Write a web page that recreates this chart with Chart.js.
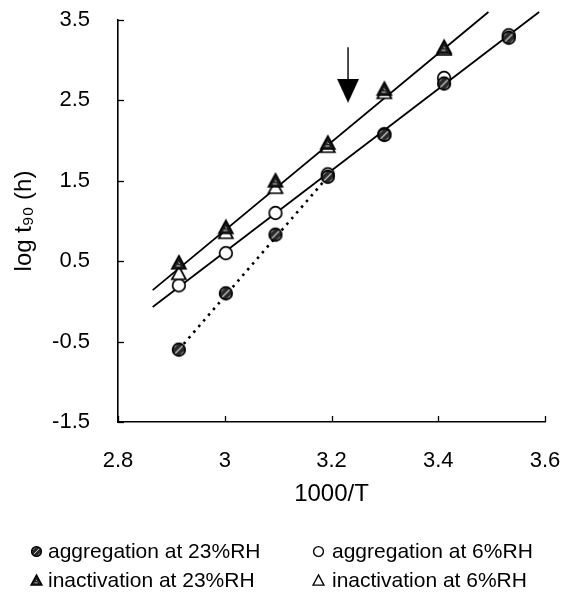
<!DOCTYPE html>
<html><head><meta charset="utf-8">
<script src="https://cdn.jsdelivr.net/npm/chart.js@4.4.0/dist/chart.umd.min.js"></script>
<style>
html,body{margin:0;padding:0;background:#fff;}
#wrap{position:relative;width:564px;height:602px;overflow:hidden;}
#c{position:absolute;left:0;top:0;}
#legend{position:absolute;left:0;top:0;width:564px;height:602px;font-family:"Liberation Sans",Arial,sans-serif;font-size:21px;color:#000;pointer-events:none;}
.item{position:absolute;height:24px;line-height:24px;white-space:nowrap;}
.item canvas{position:absolute;top:50%;}
.item span{position:absolute;top:0;white-space:nowrap;}
</style></head><body>
<div id="wrap"><canvas id="c" width="564" height="602"></canvas><div id="legend"></div></div>
<script>
// ---- data ----
const invT = [2.914, 3.002, 3.095, 3.193, 3.299, 3.411, 3.532];
const aggregation23 = [-0.6, 0.1, 0.83, 1.55, 2.07, 2.71, 3.28];
const aggregation6 = [0.2, 0.6, 1.1, 1.58, 2.08, 2.78, 3.31];
const inactivation23 = [0.48, 0.92, 1.5, 1.97, 2.64, 3.16];
const inactivation6 = [0.35, 0.86, 1.42, 1.93, 2.6, 3.14];
const fitInactX = [2.865, 3.494];
const fitInactY = [0.14, 3.6];
const fitAggX = [2.865, 3.589];
const fitAggY = [-0.07, 3.6];
const dottedX = [2.914, 3.193];
const dottedY = [-0.6, 1.55];
const arrowX = [3.231, 3.231];
const arrowY = [3.16, 2.72];
const arrowHeadY = [2.62];
const xTickLabels = ['2.8', '3', '3.2', '3.4', '3.6'];
const yTickLabels = ['-1.5', '-0.5', '0.5', '1.5', '2.5', '3.5'];
const seriesNames = ['aggregation at 23%RH', 'aggregation at 6%RH', 'inactivation at 23%RH', 'inactivation at 6%RH'];
const xTitle = '1000/T';
const yTitle = 'log t\u2089\u2080 (h)';

// ---- marker images ----
function marker(kind, s) {
  const size = Math.ceil(16 * s) + 2;
  const cv = document.createElement('canvas');
  cv.width = size; cv.height = size;
  const g = cv.getContext('2d');
  const c = size / 2;
  g.lineWidth = 1.7 * Math.max(s, 0.8);
  g.strokeStyle = '#000';
  if (kind === 'hcircle' || kind === 'ocircle') {
    const r = 6.3 * s;
    g.beginPath(); g.arc(c, c, r, 0, Math.PI * 2);
    g.fillStyle = kind === 'hcircle' ? '#2a2a2a' : '#fff';
    g.fill();
    if (kind === 'hcircle') {
      g.save(); g.beginPath(); g.arc(c, c, r - 1, 0, Math.PI * 2); g.clip();
      g.strokeStyle = '#e8e8e8'; g.lineWidth = 1.1 * s;
      for (let k = -2; k <= 2; k++) {
        const o = k * 3.6 * s;
        g.beginPath(); g.moveTo(c - 8 * s + o, c + 8 * s + o); g.lineTo(c + 8 * s + o, c - 8 * s + o); g.stroke();
      }
      g.restore();
    }
    g.beginPath(); g.arc(c, c, r, 0, Math.PI * 2); g.stroke();
  } else {
    const h = 13 * s, w = 14 * s;
    g.beginPath();
    g.moveTo(c, c - h / 2 - 0.5); g.lineTo(c + w / 2, c + h / 2 - 0.5); g.lineTo(c - w / 2, c + h / 2 - 0.5); g.closePath();
    g.fillStyle = kind === 'htri' ? '#1e1e1e' : '#fff';
    g.fill(); g.stroke();
    if (kind === 'htri') {
      g.strokeStyle = '#ddd'; g.lineWidth = 1 * s;
      g.beginPath(); g.moveTo(c - 2.5 * s, c + 3 * s); g.lineTo(c + 1.5 * s, c + 3 * s); g.stroke();
      g.beginPath(); g.moveTo(c - 0.5 * s, c - 0.5 * s); g.lineTo(c + 0.8 * s, c + 1 * s); g.stroke();
    }
  }
  return cv;
}
function arrowHead() {
  const cv = document.createElement('canvas');
  cv.width = 22; cv.height = 24;
  const g = cv.getContext('2d');
  g.fillStyle = '#000';
  g.beginPath(); g.moveTo(0, 0); g.lineTo(22, 0); g.lineTo(11, 24); g.closePath(); g.fill();
  return cv;
}
const kinds = ['hcircle', 'ocircle', 'htri', 'otri'];
const plotMarkers = kinds.map(k => marker(k, 1));
const legendMarkers = kinds.map(k => marker(k, 0.78));

const pts = (xs, ys) => ys.map((y, i) => ({x: xs[i], y: y}));
const seriesData = [aggregation23, aggregation6, inactivation23, inactivation6];

const markerSets = [2, 3, 0, 1].map(i => ({
  label: seriesNames[i],
  data: pts(invT, seriesData[i]),
  pointStyle: plotMarkers[i],
  pointRadius: 7,
  showLine: false,
  clip: false
}));
const lineStyle = {borderColor: '#000', pointRadius: 0, showLine: true, clip: false, fill: false, tension: 0};

const datasets = markerSets.concat([
  Object.assign({label: 'fit inactivation', data: pts(fitInactX, fitInactY), borderWidth: 1.8}, lineStyle),
  Object.assign({label: 'fit aggregation', data: pts(fitAggX, fitAggY), borderWidth: 1.8}, lineStyle),
  Object.assign({label: 'aggregation 23% low T', data: pts(dottedX, dottedY), borderWidth: 2.6, borderDash: [2.5, 5]}, lineStyle),
  Object.assign({label: 'arrow', data: pts(arrowX, arrowY), borderWidth: 1.4}, lineStyle),
  {label: 'arrow head', data: pts([arrowX[0]], arrowHeadY), pointStyle: arrowHead(), pointRadius: 12, showLine: false, clip: false}
]);

const inwardTicks = {
  id: 'inwardTicks',
  afterDatasetsDraw(chart) {
    const ctx = chart.ctx, xs = chart.scales.x, ys = chart.scales.y;
    const a = chart.chartArea;
    ctx.save();
    ctx.strokeStyle = '#000'; ctx.lineWidth = 1.3;
    xs.ticks.forEach(t => {
      const p = Math.round(xs.getPixelForValue(t.value)) + 0.5;
      ctx.beginPath(); ctx.moveTo(p, a.bottom); ctx.lineTo(p, a.bottom - 6); ctx.stroke();
    });
    ys.ticks.forEach(t => {
      const p = Math.round(ys.getPixelForValue(t.value)) + 0.5;
      ctx.beginPath(); ctx.moveTo(a.left, p); ctx.lineTo(a.left + 6, p); ctx.stroke();
    });
    ctx.restore();
  }
};

const font = 'Liberation Sans, Arial, sans-serif';
new Chart(document.getElementById('c'), {
  type: 'scatter',
  data: {datasets: datasets},
  options: {
    responsive: false,
    animation: false,
    devicePixelRatio: 1,
    layout: {padding: {left: 0, top: 20, right: 19, bottom: 80}},
    plugins: {legend: {display: false}, tooltip: {enabled: false}},
    scales: {
      x: {
        type: 'linear', min: 2.8, max: 3.6,
        grid: {display: false, drawTicks: false, tickLength: 0},
        border: {display: true, color: '#000', width: 1.6},
        ticks: {
          stepSize: 0.2, padding: 26, color: '#000', maxRotation: 0,
          font: {family: font, size: 22},
          callback: (v, i) => xTickLabels[i]
        },
        title: {display: true, text: xTitle, color: '#000', font: {family: font, size: 24}, padding: {top: 0, bottom: 13}},
        afterFit: s => { s.height = 100; s.paddingLeft = 0; s.paddingRight = 0; }
      },
      y: {
        type: 'linear', min: -1.5, max: 3.5,
        grid: {display: false, drawTicks: false, tickLength: 0},
        border: {display: true, color: '#000', width: 1.6},
        ticks: {
          stepSize: 1, padding: 28, color: '#000',
          font: {family: font, size: 22},
          callback: (v, i) => yTickLabels[i]
        },
        title: {display: true, text: yTitle, color: '#000', font: {family: font, size: 24}, padding: {top: 10, bottom: 0}},
        afterFit: s => { s.width = 118; s.paddingTop = 0; s.paddingBottom = 0; }
      }
    }
  },
  plugins: [inwardTicks]
});

// ---- legend (two columns, below the chart) ----
const legendPos = [
  {mx: 36, tx: 48, y: 551},
  {mx: 318, tx: 332, y: 551},
  {mx: 36, tx: 48, y: 580},
  {mx: 318, tx: 332, y: 580}
];
const lg = document.getElementById('legend');
seriesNames.forEach((name, i) => {
  const p = legendPos[i];
  const it = document.createElement('div');
  it.className = 'item';
  it.style.left = '0px'; it.style.top = (p.y - 12) + 'px';
  const m = legendMarkers[i];
  m.style.left = (p.mx - m.width / 2) + 'px';
  m.style.marginTop = (-m.height / 2) + 'px';
  const sp = document.createElement('span');
  sp.textContent = name;
  sp.style.left = p.tx + 'px';
  it.appendChild(m); it.appendChild(sp);
  lg.appendChild(it);
});
</script>
</body></html>
